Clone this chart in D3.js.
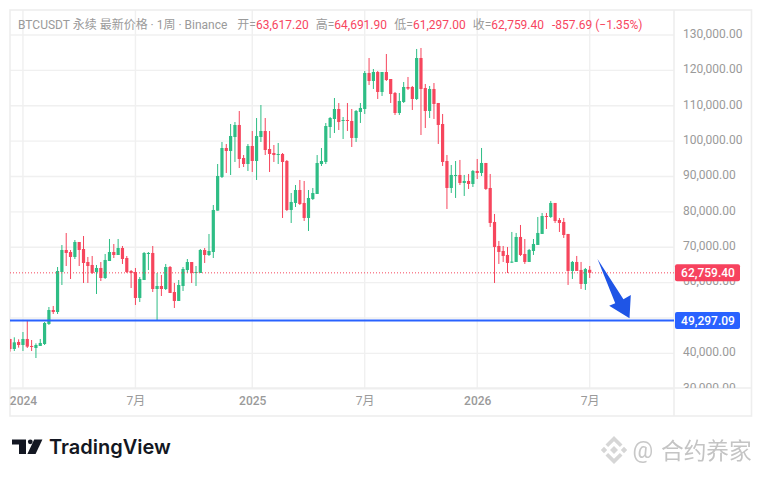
<!DOCTYPE html>
<html>
<head>
<meta charset="utf-8">
<script src="https://cdn.jsdelivr.net/npm/d3@7"></script>
<style>
    html, body { margin: 0; padding: 0; background: #fff; }
    svg { display: block; }
    text { font-family: Roboto, "Noto Sans CJK SC", sans-serif; }
</style>
</head>
<body>
<div id="chart"></div>
<script>
// Weekly candles, prices in thousands of USDT
const opens = [44.06,41.23,43.21,42.36,44.06,42.08,41.51,42.08,42.64,48.3,52.25,51.69,63,69.22,68.65,67.24,71.48,69.5,65.82,64.98,
    63,64.13,61.3,66.1,68.65,67.8,69.78,66.95,63.28,63,55.65,60.73,68.09,68.37,58.19,59.04,58.19,64.41,57.34,54.8,
    59.04,63.56,65.82,62.71,62.71,69.22,67.8,68.65,80.34,89.86,98.05,97.21,101.16,104.56,95.23,93.53,98.62,94.38,101.16,102.86,
    97.77,96.64,96.07,96.36,94.38,80.53,82.51,86.18,82.51,78.27,83.64,85.05,93.53,94.1,103.99,106.25,109.08,105.69,105.97,105.69,
    100.89,108.24,109.08,119.26,117,119.54,113.89,119.54,117.56,113.61,107.95,111.06,115.3,115.3,111.91,123.5,115.02,108.52,114.74,110.78,
    104.84,94.38,86.75,90.14,90.43,88.16,88.73,87.88,91.56,90.99,93.82,86.75,77.14,70.35,68.94,67.81,65.74,65.83,72.9,68.09,
    65.83,68.94,70.64,73.75,78.83,78.55,82.51,77.7,77.14,73.75,63.29,65.83,63.57,59.61,63.62];
const highs = [44.06,44.53,43.96,46.03,49.43,43.77,42.83,44.06,48.86,53.1,53.39,64.41,70.63,74.02,69.22,72.04,71.48,73.17,67.24,67.52,
    64.98,65.82,68.09,72.33,70.91,72.33,70.35,67.52,63.56,64.13,61.58,68.65,68.65,70.35,62.71,62.15,65.26,64.69,59.89,60.73,
    64.41,66.67,65.82,64.69,69.5,69.78,73.74,81.94,93.53,99.75,99.18,104.84,105.4,108.51,96.07,99.18,102.86,106.53,110.21,106.53,
    102.86,98.9,99.47,96.64,94.66,85.33,87.59,89.01,88.73,86.18,86.75,96.07,98.05,105.12,106.82,112.19,110.77,106.82,110.77,109.08,
    108.8,110.78,119.83,123.5,120.39,119.83,119.54,124.63,117.56,113.89,113.61,116.72,118.13,115.59,126.05,126.33,116.15,115.59,116.43,110.78,
    107.67,96.08,93.25,94.38,94.67,90.43,90.71,91.84,94.95,98.06,93.82,90.71,79.4,71.77,70.35,70.07,74.31,74.03,76.29,72.33,
    69.51,72.33,78.55,79.68,79.68,83.08,82.51,78.27,78.27,73.75,66.11,67.53,65.83,64.13,64.69];
const lows = [40.48,40.66,41.61,40.66,41.51,40.66,38.68,42.08,42.36,48.02,51.12,51.12,59.32,64.69,61.02,66.67,64.69,59.89,59.89,62.43,
    56.78,60.45,61.02,66.1,66.95,67.8,65.26,62.71,58.47,53.67,54.52,60.73,63.56,57.34,49.24,56.21,57.91,57.06,52.82,54.8,
    57.63,62.71,59.89,59.04,62.71,65.54,67.52,66.95,80.34,89.57,90.99,90.42,94.1,92.4,92.68,91.55,91.27,89.01,99.75,96.07,
    91.27,94.1,93.53,78.27,80.24,76.85,81.37,81.94,77.42,74.59,83.35,85.05,92.97,93.53,100.88,102.29,103.14,100.6,102.86,98.34,
    99.76,105.13,107.67,115.87,114.74,111.91,112.76,117,110.78,107.39,107.39,110.78,114.46,108.8,111.63,101.73,103.71,106.54,106.26,99.19,
    92.97,80.81,85.34,83.93,87.6,84.49,86.47,87.03,89.29,90.14,86.19,75.73,59.89,65.27,65.83,62.72,65.55,65.83,67.53,65.27,
    65.83,67.81,70.64,73.75,75.16,78.27,76.86,74.31,72.62,59.33,61.03,63.57,58.2,57.92,61.3];
const closes = [41.23,43.11,42.36,44.06,41.89,41.8,42.36,42.93,48.58,52.25,51.69,63.28,69.22,68.37,67.24,71.48,69.22,65.54,64.69,62.71,
    64.13,61.3,66.39,68.65,67.8,69.78,66.67,63,62.71,55.65,61.02,68.37,68.37,58.19,59.04,58.19,64.41,57.06,54.8,59.32,
    63.84,65.82,62.71,63,69.22,67.8,68.94,80.53,90.14,98.05,97.21,101.45,104.56,94.94,93.53,98.62,94.38,101.45,102.86,97.49,
    96.36,96.07,96.36,94.1,80.53,82.79,86.18,82.22,78.27,83.92,85.33,93.81,94.38,104.27,106.53,109.08,105.4,105.97,105.69,100.89,
    108.52,109.37,119.26,117,119.54,113.89,119.54,117.28,113.32,107.95,111.35,115.3,114.83,111.91,123.5,114.74,108.52,114.74,110.5,104.56,
    94.1,86.75,90.43,90.43,88.16,88.73,87.88,91.56,90.99,93.82,86.47,76.86,70.07,68.66,67.53,65.55,65.93,72.9,67.81,65.83,
    69.22,70.92,74.03,78.83,78.55,82.51,77.42,76.86,73.46,63.29,65.83,63.29,59.61,63.85,62.76];

const priceTicks = [130, 120, 110, 100, 90, 80, 70, 60, 50, 40, 30];
const hiddenPriceLabel = 50; // sits fully behind the blue price tag
const timeTickIndex = [3, 29, 56, 82, 108, 134];
const timeTickLabels = ['2024', '7月', '2025', '7月', '2026', '7月'];

const lastPrice = 62.7594;
const supportPrice = 49.29709;

// Hand-drawn arrow annotation as [candle index, price]
const arrowIndex = [135.8, 141.8, 143.5, 143.2, 138.5, 139.9];
const arrowPrice = [66.68, 55.28, 56.5, 49.91, 53.47, 54.15];

const titleLabels = ['BTCUSDT 永续 最新价格 · 1周 · Binance', '开=', '高=', '低=', '收=', ''];
const titleValues = ['', '63,617.20', '64,691.90', '61,297.00', '62,759.40', '-857.69 (−1.35%)'];

const UP = '#2ebd85';
const DOWN = '#f6465d';
const BLUE = '#2962ff';
const GRID = '#f0f0f0';
const LABEL = '#9a9a9a';

const plot = { left: 10, right: 674, top: 10, bottom: 388 };
const frameRight = 751.5;
const frameBottom = 416;
const titleX = [18, 237.3, 315.7, 394.3, 472.7, 552];

const x = d3.scaleLinear().domain([0, 134]).range([9.97, 589.7]);
const y = d3.scaleLinear().domain([130, 30]).range([35, 388.7]);

const svg = d3.select('#chart').append('svg')
    .attr('width', 762)
    .attr('height', 477)
    .attr('role', 'img')
    .attr('aria-label', 'BTCUSDT weekly candlestick chart');

const defs = svg.append('defs');
defs.append('clipPath').attr('id', 'plot-clip').append('rect')
    .attr('x', plot.left).attr('y', plot.top)
    .attr('width', plot.right - plot.left).attr('height', plot.bottom - plot.top);
defs.append('clipPath').attr('id', 'axis-clip').append('rect')
    .attr('x', plot.right).attr('y', plot.top)
    .attr('width', frameRight - plot.right).attr('height', plot.bottom - plot.top);
defs.append('filter').attr('id', 'soft').append('feGaussianBlur').attr('stdDeviation', 0.5);

// Grid
const grid = svg.append('g').attr('stroke', GRID).attr('stroke-width', 1.4);
grid.selectAll('.h').data(priceTicks).join('line')
    .attr('class', 'h')
    .attr('x1', plot.left).attr('x2', plot.right)
    .attr('y1', d => y(d)).attr('y2', d => y(d));
grid.selectAll('.v').data(timeTickIndex).join('line')
    .attr('class', 'v')
    .attr('x1', d => x(d)).attr('x2', d => x(d))
    .attr('y1', plot.top).attr('y2', plot.bottom);

// Frame
const frame = svg.append('g').attr('stroke', '#eeeeee').attr('stroke-width', 1.6).attr('fill', 'none');
frame.append('rect')
    .attr('x', plot.left).attr('y', plot.top)
    .attr('width', frameRight - plot.left).attr('height', frameBottom - plot.top);
frame.append('line').attr('x1', plot.left).attr('x2', frameRight).attr('y1', plot.bottom).attr('y2', plot.bottom);
frame.append('line').attr('x1', plot.right).attr('x2', plot.right).attr('y1', plot.top).attr('y2', frameBottom);

// Candles
const candles = svg.append('g').attr('clip-path', 'url(#plot-clip)')
    .selectAll('g').data(d3.range(opens.length)).join('g')
    .attr('fill', i => closes[i] >= opens[i] ? UP : DOWN);
const bodyWidth = 3.2;
const wickWidth = 1;
candles.append('rect')
    .attr('x', i => x(i) - wickWidth / 2)
    .attr('width', wickWidth)
    .attr('y', i => y(highs[i]))
    .attr('height', i => y(lows[i]) - y(highs[i]));
candles.append('rect')
    .attr('x', i => x(i) - bodyWidth / 2)
    .attr('width', bodyWidth)
    .attr('y', i => y(Math.max(opens[i], closes[i])))
    .attr('height', i => Math.max(1, Math.abs(y(opens[i]) - y(closes[i]))));

// Last price dotted line and support line
svg.append('line')
    .attr('x1', plot.left).attr('x2', plot.right)
    .attr('y1', y(lastPrice)).attr('y2', y(lastPrice))
    .attr('stroke', DOWN).attr('stroke-width', 1).attr('stroke-dasharray', '1 2');
svg.append('line')
    .attr('x1', plot.left).attr('x2', plot.right)
    .attr('y1', y(supportPrice)).attr('y2', y(supportPrice))
    .attr('stroke', BLUE).attr('stroke-width', 2);

// Arrow annotation
svg.append('path')
    .attr('d', d3.line()(arrowIndex.map((d, i) => [x(d), y(arrowPrice[i])])) + 'Z')
    .attr('fill', '#1f55e6');

// Price axis
const priceAxis = d3.axisRight(y)
    .tickValues(priceTicks.filter(d => d !== hiddenPriceLabel))
    .tickSize(0)
    .tickPadding(0)
    .tickFormat(d => d3.format(',.2f')(d * 1000));
const priceG = svg.append('g')
    .attr('clip-path', 'url(#axis-clip)')
    .append('g')
    .attr('transform', 'translate(683,-1.5)')
    .call(priceAxis);
priceG.select('.domain').remove();
priceG.selectAll('text')
    .attr('font-size', 12)
    .attr('font-family', 'Roboto')
    .attr('fill', LABEL);

// Time axis
const timeAxis = d3.axisBottom(x)
    .tickValues(timeTickIndex)
    .tickSize(0)
    .tickPadding(0)
    .tickFormat((d, i) => timeTickLabels[i]);
const timeG = svg.append('g')
    .attr('transform', 'translate(0,396)')
    .call(timeAxis);
timeG.select('.domain').remove();
timeG.selectAll('text')
    .attr('font-size', 12)
    .attr('font-weight', (d, i) => i % 2 === 0 ? 500 : 400)
    .attr('fill', LABEL);

// Price tags
function priceTag(price, color) {
    const g = svg.append('g').attr('transform', `translate(${plot.right + 1},${y(price)})`);
    g.append('rect')
        .attr('x', 0).attr('y', -8.5)
        .attr('width', 65).attr('height', 17)
        .attr('rx', 2)
        .attr('fill', color);
    g.append('text')
        .attr('x', 33).attr('y', 4.2)
        .attr('text-anchor', 'middle')
        .attr('font-size', 12).attr('font-weight', 500)
        .attr('fill', '#fff')
        .text(d3.format(',.2f')(price * 1000));
}
priceTag(lastPrice, '#f7425e');
priceTag(supportPrice, BLUE);

// Title
const title = svg.append('g').selectAll('text').data(titleX).join('text')
    .attr('x', d => d)
    .attr('y', 29)
    .attr('font-size', 12);
title.append('tspan').attr('fill', LABEL).text((d, i) => titleLabels[i]);
title.append('tspan').attr('fill', '#f7465f').text((d, i) => titleValues[i]);

// TradingView logo
const logo = svg.append('g').attr('fill', '#131722');
logo.append('path').attr('d', 'M12 439.4H26V454H19V444.4H12Z');
logo.append('circle').attr('cx', 30.3).attr('cy', 441.8).attr('r', 2.4);
logo.append('path').attr('d', 'M34.2 439.4H42.4L35.6 454H27.4Z');
svg.append('text')
    .attr('x', 49).attr('y', 454)
    .attr('font-size', 20).attr('font-weight', 600)
    .attr('fill', '#131722')
    .style('font-family', 'Inter')
    .text('TradingView');

// Watermark
const mark = svg.append('g').attr('filter', 'url(#soft)');
const logoMark = d3.path();
const diamond = (cx, cy, r) => {
    logoMark.moveTo(cx, cy - r);
    logoMark.lineTo(cx + r, cy);
    logoMark.lineTo(cx, cy + r);
    logoMark.lineTo(cx - r, cy);
    logoMark.closePath();
};
diamond(614, 450, 4);
diamond(604, 450, 3.2);
diamond(624, 450, 3.2);
mark.append('path').attr('d', logoMark.toString()).attr('fill', '#d6d6d6');
mark.append('path')
    .attr('d', 'M614 436l8.5 8.5-2.6 2.6-5.9-5.9-5.9 5.9-2.6-2.6Z M614 464l8.5-8.5-2.6-2.6-5.9 5.9-5.9-5.9-2.6 2.6Z')
    .attr('fill', '#d6d6d6');
mark.append('text')
    .attr('x', 632.5).attr('y', 457.5)
    .attr('font-size', 23)
    .attr('fill', '#c8c8c8')
    .text('@');
mark.append('text')
    .attr('x', 661).attr('y', 459)
    .attr('font-size', 22.7)
    .attr('fill', '#c4c4c4')
    .style('font-family', '"Noto Sans CJK SC"')
    .text('合约养家');
</script>
</body>
</html>
